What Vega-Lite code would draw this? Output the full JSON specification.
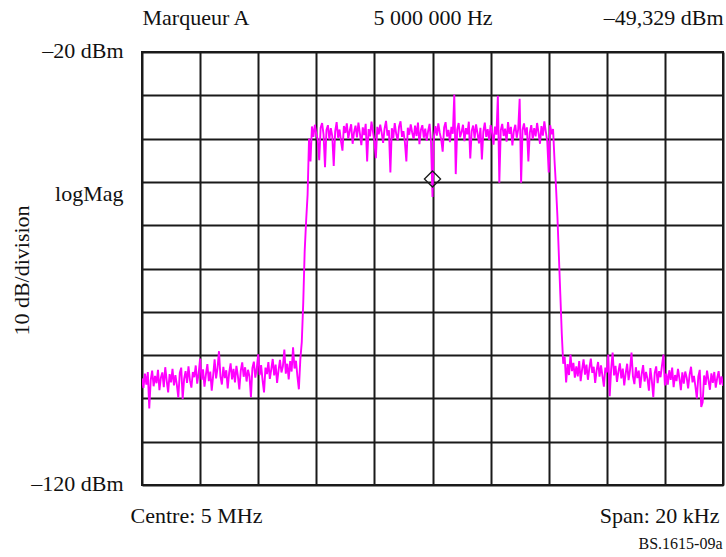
{
"$schema": "https://vega.github.io/schema/vega-lite/v6.json",
"width": 581, "height": 433,
"autosize": {"type": "none"},
"padding": {"left": 142, "top": 52, "right": 3, "bottom": 72},
"background": "white",
"config": {
  "view": {"stroke": "#1a1a1a", "strokeWidth": 2},
  "font": "Liberation Serif",
  "axis": {"labelFont": "Liberation Serif", "titleFont": "Liberation Serif", "labelColor": "#111", "titleColor": "#111", "titleFontWeight": "normal", "labelFontSize": 22, "titleFontSize": 22}
},
"data": {"values": [
{"f":-10,"p":-95.4},{"f":-9.95,"p":-97.6},{"f":-9.9,"p":-94.3},{"f":-9.85,"p":-96.8},{"f":-9.8,"p":-93.9},{"f":-9.75,"p":-102.3},{"f":-9.7,"p":-95.8},{"f":-9.65,"p":-93.6},{"f":-9.6,"p":-97.2},{"f":-9.55,"p":-94.8},
{"f":-9.5,"p":-96.5},{"f":-9.45,"p":-93.4},{"f":-9.4,"p":-98.1},{"f":-9.35,"p":-95.2},{"f":-9.3,"p":-94.0},{"f":-9.25,"p":-97.4},{"f":-9.2,"p":-92.8},{"f":-9.15,"p":-95.9},{"f":-9.1,"p":-98.6},{"f":-9.05,"p":-94.4},
{"f":-9,"p":-96.3},{"f":-8.95,"p":-93.2},{"f":-8.9,"p":-97.0},{"f":-8.85,"p":-94.6},{"f":-8.8,"p":-96.9},{"f":-8.75,"p":-99.8},{"f":-8.7,"p":-94.1},{"f":-8.65,"p":-92.9},{"f":-8.6,"p":-100.1},{"f":-8.55,"p":-95.5},
{"f":-8.5,"p":-93.7},{"f":-8.45,"p":-96.4},{"f":-8.4,"p":-92.6},{"f":-8.35,"p":-95.8},{"f":-8.3,"p":-97.5},{"f":-8.25,"p":-93.9},{"f":-8.2,"p":-95.1},{"f":-8.15,"p":-92.4},{"f":-8.1,"p":-96.6},{"f":-8.05,"p":-94.2},
{"f":-8,"p":-90.8},{"f":-7.95,"p":-95.7},{"f":-7.9,"p":-93.3},{"f":-7.85,"p":-97.3},{"f":-7.8,"p":-94.5},{"f":-7.75,"p":-92.1},{"f":-7.7,"p":-96.0},{"f":-7.65,"p":-93.8},{"f":-7.6,"p":-98.2},{"f":-7.55,"p":-94.7},
{"f":-7.5,"p":-91.0},{"f":-7.45,"p":-95.4},{"f":-7.4,"p":-93.0},{"f":-7.35,"p":-89.1},{"f":-7.3,"p":-94.9},{"f":-7.25,"p":-96.8},{"f":-7.2,"p":-92.7},{"f":-7.15,"p":-95.3},{"f":-7.1,"p":-93.5},{"f":-7.05,"p":-97.7},
{"f":-7,"p":-94.1},{"f":-6.95,"p":-91.9},{"f":-6.9,"p":-95.6},{"f":-6.85,"p":-93.2},{"f":-6.8,"p":-96.3},{"f":-6.75,"p":-92.5},{"f":-6.7,"p":-94.8},{"f":-6.65,"p":-97.9},{"f":-6.6,"p":-93.6},{"f":-6.55,"p":-91.7},
{"f":-6.5,"p":-95.0},{"f":-6.45,"p":-92.8},{"f":-6.4,"p":-96.1},{"f":-6.35,"p":-93.4},{"f":-6.3,"p":-94.9},{"f":-6.25,"p":-99.7},{"f":-6.2,"p":-93.0},{"f":-6.15,"p":-91.5},{"f":-6.1,"p":-95.2},{"f":-6.05,"p":-93.1},
{"f":-6,"p":-89.8},{"f":-5.95,"p":-94.6},{"f":-5.9,"p":-92.3},{"f":-5.85,"p":-95.8},{"f":-5.8,"p":-98.6},{"f":-5.75,"p":-92.9},{"f":-5.7,"p":-94.4},{"f":-5.65,"p":-91.6},{"f":-5.6,"p":-95.5},{"f":-5.55,"p":-93.3},
{"f":-5.5,"p":-90.9},{"f":-5.45,"p":-94.7},{"f":-5.4,"p":-92.2},{"f":-5.35,"p":-96.4},{"f":-5.3,"p":-93.5},{"f":-5.25,"p":-91.1},{"f":-5.2,"p":-94.0},{"f":-5.15,"p":-92.6},{"f":-5.1,"p":-88.7},{"f":-5.05,"p":-94.3},
{"f":-5,"p":-92.0},{"f":-4.95,"p":-95.6},{"f":-4.9,"p":-91.4},{"f":-4.85,"p":-93.8},{"f":-4.8,"p":-88.2},{"f":-4.75,"p":-93.1},{"f":-4.7,"p":-91.3},{"f":-4.65,"p":-94.9},{"f":-4.6,"p":-97.9},{"f":-4.55,"p":-91},
{"f":-4.5,"p":-87},{"f":-4.45,"p":-78},{"f":-4.4,"p":-66},{"f":-4.35,"p":-59},{"f":-4.3,"p":-53},{"f":-4.25,"p":-40},{"f":-4.2,"p":-45.3},{"f":-4.15,"p":-37.2},{"f":-4.1,"p":-39.6},{"f":-4.05,"p":-36.8},
{"f":-4,"p":-38.9},{"f":-3.95,"p":-40.3},{"f":-3.9,"p":-45.0},{"f":-3.85,"p":-37.5},{"f":-3.8,"p":-36.4},{"f":-3.75,"p":-39.1},{"f":-3.7,"p":-46.6},{"f":-3.65,"p":-38.0},{"f":-3.6,"p":-36.9},{"f":-3.55,"p":-40.2},
{"f":-3.5,"p":-37.6},{"f":-3.45,"p":-39.4},{"f":-3.4,"p":-46.3},{"f":-3.35,"p":-38.3},{"f":-3.3,"p":-36.2},{"f":-3.25,"p":-39.8},{"f":-3.2,"p":-37.9},{"f":-3.15,"p":-40.6},{"f":-3.1,"p":-42.8},{"f":-3.05,"p":-37.1},
{"f":-3,"p":-38.7},{"f":-2.95,"p":-36.5},{"f":-2.9,"p":-40.0},{"f":-2.85,"p":-38.2},{"f":-2.8,"p":-36.7},{"f":-2.75,"p":-41.2},{"f":-2.7,"p":-38.5},{"f":-2.65,"p":-37.0},{"f":-2.6,"p":-39.7},{"f":-2.55,"p":-36.3},
{"f":-2.5,"p":-38.8},{"f":-2.45,"p":-41.5},{"f":-2.4,"p":-37.4},{"f":-2.35,"p":-39.2},{"f":-2.3,"p":-36.6},{"f":-2.25,"p":-45.3},{"f":-2.2,"p":-37.8},{"f":-2.15,"p":-39.5},{"f":-2.1,"p":-36.1},{"f":-2.05,"p":-38.4},
{"f":-2,"p":-40.7},{"f":-1.95,"p":-44.5},{"f":-1.9,"p":-37.3},{"f":-1.85,"p":-39.0},{"f":-1.8,"p":-36.8},{"f":-1.75,"p":-38.6},{"f":-1.7,"p":-41.0},{"f":-1.65,"p":-37.7},{"f":-1.6,"p":-35.9},{"f":-1.55,"p":-39.3},
{"f":-1.5,"p":-38.1},{"f":-1.45,"p":-47.8},{"f":-1.4,"p":-37.6},{"f":-1.35,"p":-39.9},{"f":-1.3,"p":-36.4},{"f":-1.25,"p":-38.9},{"f":-1.2,"p":-40.4},{"f":-1.15,"p":-37.2},{"f":-1.1,"p":-36.0},{"f":-1.05,"p":-39.6},
{"f":-1,"p":-38.3},{"f":-0.95,"p":-40.9},{"f":-0.9,"p":-45.3},{"f":-0.85,"p":-37.5},{"f":-0.8,"p":-39.1},{"f":-0.75,"p":-36.7},{"f":-0.7,"p":-38.6},{"f":-0.65,"p":-40.1},{"f":-0.6,"p":-37.0},{"f":-0.55,"p":-39.4},
{"f":-0.5,"p":-36.3},{"f":-0.45,"p":-41.3},{"f":-0.4,"p":-38.0},{"f":-0.35,"p":-36.9},{"f":-0.3,"p":-39.8},{"f":-0.25,"p":-37.7},{"f":-0.2,"p":-40.5},{"f":-0.15,"p":-38.2},{"f":-0.1,"p":-36.6},{"f":-0.05,"p":-41.0},
{"f":0,"p":-53.5},{"f":0.05,"p":-39.5},{"f":0.1,"p":-37.1},{"f":0.15,"p":-39.3},{"f":0.2,"p":-36.5},{"f":0.25,"p":-38.7},{"f":0.3,"p":-40.2},{"f":0.35,"p":-43.0},{"f":0.4,"p":-37.4},{"f":0.45,"p":-36.2},
{"f":0.5,"p":-39.5},{"f":0.55,"p":-38.0},{"f":0.6,"p":-40.8},{"f":0.65,"p":-37.3},{"f":0.7,"p":-38.9},{"f":0.75,"p":-29.8},{"f":0.8,"p":-48.2},{"f":0.85,"p":-37.9},{"f":0.9,"p":-36.4},{"f":0.95,"p":-39.7},
{"f":1,"p":-38.5},{"f":1.05,"p":-36.8},{"f":1.1,"p":-40.6},{"f":1.15,"p":-37.6},{"f":1.2,"p":-39.0},{"f":1.25,"p":-36.1},{"f":1.3,"p":-44.6},{"f":1.35,"p":-38.2},{"f":1.4,"p":-37.0},{"f":1.45,"p":-39.9},
{"f":1.5,"p":-36.7},{"f":1.55,"p":-38.8},{"f":1.6,"p":-41.1},{"f":1.65,"p":-37.5},{"f":1.7,"p":-44.8},{"f":1.75,"p":-38.4},{"f":1.8,"p":-36.3},{"f":1.85,"p":-39.6},{"f":1.9,"p":-37.8},{"f":1.95,"p":-40.3},
{"f":2,"p":-36.9},{"f":2.05,"p":-38.6},{"f":2.1,"p":-41.4},{"f":2.15,"p":-37.2},{"f":2.2,"p":-39.1},{"f":2.25,"p":-30.1},{"f":2.3,"p":-50.2},{"f":2.35,"p":-38.1},{"f":2.4,"p":-36.6},{"f":2.45,"p":-39.4},
{"f":2.5,"p":-37.7},{"f":2.55,"p":-40.7},{"f":2.6,"p":-36.2},{"f":2.65,"p":-38.9},{"f":2.7,"p":-37.3},{"f":2.75,"p":-41.6},{"f":2.8,"p":-38.3},{"f":2.85,"p":-36.8},{"f":2.9,"p":-39.8},{"f":2.95,"p":-37.9},
{"f":3,"p":-30.8},{"f":3.05,"p":-50.2},{"f":3.1,"p":-38.0},{"f":3.15,"p":-36.5},{"f":3.2,"p":-39.2},{"f":3.25,"p":-37.4},{"f":3.3,"p":-45.3},{"f":3.35,"p":-38.6},{"f":3.4,"p":-36.9},{"f":3.45,"p":-40.1},
{"f":3.5,"p":-37.6},{"f":3.55,"p":-39.5},{"f":3.6,"p":-36.4},{"f":3.65,"p":-38.7},{"f":3.7,"p":-41.2},{"f":3.75,"p":-37.1},{"f":3.8,"p":-39.3},{"f":3.85,"p":-36.0},{"f":3.9,"p":-38.4},{"f":3.95,"p":-40.6},
{"f":4,"p":-47.8},{"f":4.05,"p":-36.9},{"f":4.1,"p":-39.0},{"f":4.15,"p":-37.8},{"f":4.2,"p":-45},{"f":4.25,"p":-51},{"f":4.3,"p":-58},{"f":4.35,"p":-67},{"f":4.4,"p":-76},{"f":4.45,"p":-85},
{"f":4.5,"p":-92},{"f":4.55,"p":-90.4},{"f":4.6,"p":-96.3},{"f":4.65,"p":-92.1},{"f":4.7,"p":-94.6},{"f":4.75,"p":-89.9},{"f":4.8,"p":-93.7},{"f":4.85,"p":-91.8},{"f":4.9,"p":-95.2},{"f":4.95,"p":-92.6},
{"f":5,"p":-94.9},{"f":5.05,"p":-91.4},{"f":5.1,"p":-96.0},{"f":5.15,"p":-93.3},{"f":5.2,"p":-91.0},{"f":5.25,"p":-94.5},{"f":5.3,"p":-92.2},{"f":5.35,"p":-95.7},{"f":5.4,"p":-93.0},{"f":5.45,"p":-90.8},
{"f":5.5,"p":-94.1},{"f":5.55,"p":-92.7},{"f":5.6,"p":-96.4},{"f":5.65,"p":-93.5},{"f":5.7,"p":-91.6},{"f":5.75,"p":-95.0},{"f":5.8,"p":-92.4},{"f":5.85,"p":-94.8},{"f":5.9,"p":-97.3},{"f":5.95,"p":-92.9},
{"f":6,"p":-94.0},{"f":6.05,"p":-89.9},{"f":6.1,"p":-99.5},{"f":6.15,"p":-93.2},{"f":6.2,"p":-89.4},{"f":6.25,"p":-94.7},{"f":6.3,"p":-92.5},{"f":6.35,"p":-96.2},{"f":6.4,"p":-93.8},{"f":6.45,"p":-91.9},
{"f":6.5,"p":-95.4},{"f":6.55,"p":-93.1},{"f":6.6,"p":-97.0},{"f":6.65,"p":-94.2},{"f":6.7,"p":-92.0},{"f":6.75,"p":-95.8},{"f":6.8,"p":-93.4},{"f":6.85,"p":-89.4},{"f":6.9,"p":-94.9},{"f":6.95,"p":-96.7},
{"f":7,"p":-92.8},{"f":7.05,"p":-95.3},{"f":7.1,"p":-93.6},{"f":7.15,"p":-97.6},{"f":7.2,"p":-94.4},{"f":7.25,"p":-92.3},{"f":7.3,"p":-96.1},{"f":7.35,"p":-93.9},{"f":7.4,"p":-95.5},{"f":7.45,"p":-98.2},
{"f":7.5,"p":-93.0},{"f":7.55,"p":-95.9},{"f":7.6,"p":-99.7},{"f":7.65,"p":-94.1},{"f":7.7,"p":-92.6},{"f":7.75,"p":-96.5},{"f":7.8,"p":-93.7},{"f":7.85,"p":-95.1},{"f":7.9,"p":-92.4},{"f":7.95,"p":-89.9},
{"f":8,"p":-97.0},{"f":8.05,"p":-94.3},{"f":8.1,"p":-96.8},{"f":8.15,"p":-93.5},{"f":8.2,"p":-95.7},{"f":8.25,"p":-92.9},{"f":8.3,"p":-97.4},{"f":8.35,"p":-94.6},{"f":8.4,"p":-96.0},{"f":8.45,"p":-93.2},
{"f":8.5,"p":-95.4},{"f":8.55,"p":-98.1},{"f":8.6,"p":-94.0},{"f":8.65,"p":-96.6},{"f":8.7,"p":-93.8},{"f":8.75,"p":-95.2},{"f":8.8,"p":-97.7},{"f":8.85,"p":-94.5},{"f":8.9,"p":-92.7},{"f":8.95,"p":-96.3},
{"f":9,"p":-94.8},{"f":9.05,"p":-97.2},{"f":9.1,"p":-100.0},{"f":9.15,"p":-95.0},{"f":9.2,"p":-93.4},{"f":9.25,"p":-102.0},{"f":9.3,"p":-100.9},{"f":9.35,"p":-94.7},{"f":9.4,"p":-96.9},{"f":9.45,"p":-93.6},
{"f":9.5,"p":-95.8},{"f":9.55,"p":-98.0},{"f":9.6,"p":-94.2},{"f":9.65,"p":-96.4},{"f":9.7,"p":-93.9},{"f":9.75,"p":-97.5},{"f":9.8,"p":-95.3},{"f":9.85,"p":-93.7},{"f":9.9,"p":-96.8},{"f":9.95,"p":-94.9},
{"f":10,"p":-97.1}
]},
"layer": [
  {
    "mark": {"type": "line", "color": "#ff00ff", "strokeWidth": 1.9, "clip": true},
    "encoding": {
      "x": {"field": "f", "type": "quantitative",
        "scale": {"domain": [-10, 10], "nice": false, "zero": false},
        "axis": {"orient": "bottom", "values": [-10,-8,-6,-4,-2,0,2,4,6,8,10],
          "grid": true, "gridColor": "#1a1a1a", "gridWidth": 2, "gridOpacity": 1,
          "ticks": false, "tickSize": 0, "domain": false, "labelFlush": false, "labelOverlap": false,
          "labelExpr": "datum.value == -10 ? 'Centre: 5 MHz' : datum.value == 10 ? 'Span: 20 kHz' : ''",
          "labelBaseline": "alphabetic", "labelPadding": 37,
          "labelAlign": {"condition": {"test": "datum.value < 0", "value": "left"}, "value": "right"},
          "labelOffset": {"condition": {"test": "datum.value < 0", "value": -12}, "value": -4},
          "title": "BS.1615-09a", "titleFontSize": 16, "titleAnchor": "end", "titleAlign": "right",
          "titleX": 580, "titleY": 63, "titleBaseline": "alphabetic"}},
      "y": {"field": "p", "type": "quantitative",
        "scale": {"domain": [-120, -20], "nice": false, "zero": false},
        "axis": {"values": [-120,-110,-100,-90,-80,-70,-60,-50,-40,-30,-20],
          "grid": true, "gridColor": "#1a1a1a", "gridWidth": 2, "gridOpacity": 1,
          "ticks": false, "tickSize": 0, "domain": false, "labelFlush": false, "labelOverlap": false,
          "labelExpr": "datum.value == -20 ? '–20 dBm' : datum.value == -120 ? '–120 dBm' : datum.value == -50 ? 'logMag' : ''",
          "labelBaseline": "alphabetic", "labelPadding": 19,
          "labelOffset": {"condition": {"test": "datum.value == -50", "value": 19}, "value": 5},
          "title": "10 dB/division", "titleAngle": 270, "titleX": -121, "titleY": 218,
          "titleAlign": "center", "titleBaseline": "middle"}}
    }
  },
  {
    "data": {"values": [{"f": 0, "p": -49.329}]},
    "mark": {"type": "point", "shape": "diamond", "size": 260, "filled": false, "stroke": "#1a1a1a", "strokeWidth": 1.3, "opacity": 1},
    "encoding": {
      "x": {"field": "f", "type": "quantitative",
        "axis": {"orient": "top", "values": [-10, 0, 10], "grid": false, "ticks": false, "tickSize": 0, "domain": false,
          "labelFlush": false, "labelOverlap": false,
          "labelExpr": "datum.value == -10 ? 'Marqueur A' : datum.value == 0 ? '5 000 000 Hz' : '–49,329 dBm'",
          "labelBaseline": "alphabetic", "labelPadding": 28,
          "labelAlign": {"condition": [{"test": "datum.value < 0", "value": "left"}, {"test": "datum.value > 0", "value": "right"}], "value": "center"},
          "title": null}},
      "y": {"field": "p", "type": "quantitative"}
    }
  }
],
"resolve": {"axis": {"x": "independent"}}
}
